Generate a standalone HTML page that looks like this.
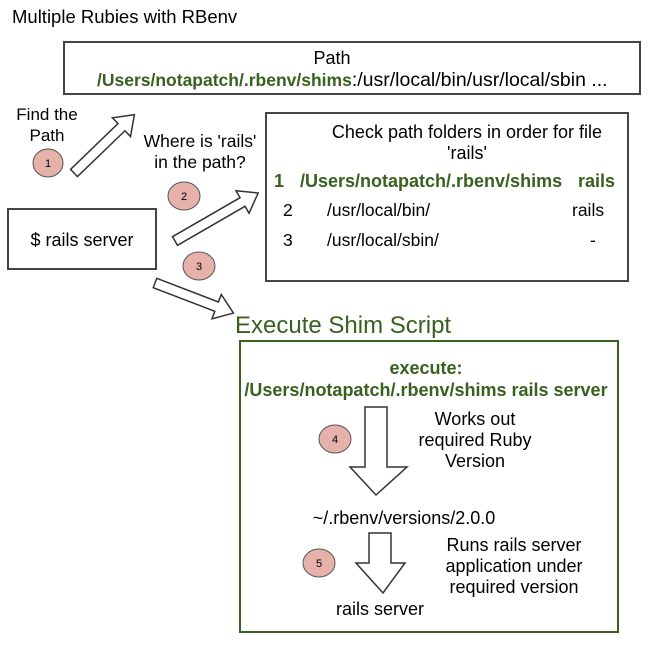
<!DOCTYPE html>
<html><head><style>body{margin:0;background:#fff}svg{display:block}text{font-family:"Liberation Sans",Arial,sans-serif;fill:#000}</style></head>
<body>
<svg width="652" height="652" viewBox="0 0 652 652" xmlns="http://www.w3.org/2000/svg">
<text x="12" y="23" font-size="18.5">Multiple Rubies with RBenv</text>
<rect x="64" y="42" width="576" height="52" fill="#fff" stroke="#444" stroke-width="2"/>
<text x="332" y="64" font-size="18" text-anchor="middle">Path</text>
<text x="97" y="86" font-size="19.5"><tspan font-weight="bold" style="fill:#38601f" font-size="17.5">/Users/notapatch/.rbenv/shims</tspan>:/usr/local/bin/usr/local/sbin ...</text>

<text x="47" y="120" font-size="17" text-anchor="middle">Find the</text>
<text x="47" y="141" font-size="17" text-anchor="middle">Path</text>
<text x="200" y="147" font-size="17.5" text-anchor="middle">Where is 'rails'</text>
<text x="200" y="168" font-size="17.5" text-anchor="middle">in the path?</text>

<rect x="266" y="113" width="362" height="168" fill="#fff" stroke="#444" stroke-width="2"/>
<text x="467" y="138" font-size="18" text-anchor="middle">Check path folders in order for file</text>
<text x="467" y="159" font-size="18" text-anchor="middle">'rails'</text>
<g font-size="18" font-weight="bold">
<text x="274" y="187" style="fill:#38601f">1</text>
<text x="300" y="187" style="fill:#38601f">/Users/notapatch/.rbenv/shims</text>
<text x="578" y="187" style="fill:#38601f">rails</text></g>
<text x="283" y="216" font-size="17.5">2</text>
<text x="327" y="216" font-size="17.5">/usr/local/bin/</text>
<text x="572" y="216" font-size="17.5">rails</text>
<text x="283" y="246" font-size="17.5">3</text>
<text x="327" y="246" font-size="17.5">/usr/local/sbin/</text>
<text x="590" y="246" font-size="17.5">-</text>

<rect x="8" y="209" width="148" height="60" fill="#fff" stroke="#444" stroke-width="2"/>
<text x="82" y="246" font-size="18" text-anchor="middle">$ rails server</text>

<g fill="#fff" stroke="#333" stroke-width="1.5">
<polygon transform="translate(74,173) rotate(-44)" points="0,-5 66,-5 66,-13 84,0 66,13 66,5 0,5"/>
<polygon transform="translate(175,241) rotate(-30)" points="0,-5 78,-5 78,-13 96,0 78,13 78,5 0,5"/>
<polygon transform="translate(155,283) rotate(21)" points="0,-5 66,-5 66,-13 84,0 66,13 66,5 0,5"/>
<polygon points="365,407 387,407 387,467 407,467 376,495 350,467 365,467"/>
<polygon points="369,533 391,533 391,563 405,563 383,593 356,563 369,563"/>
</g>

<g fill="#e6b1aa" stroke="#555" stroke-width="1">
<ellipse cx="48" cy="163" rx="15" ry="14"/>
<ellipse cx="184" cy="196" rx="16" ry="14"/>
<ellipse cx="199" cy="266" rx="16" ry="14"/>
<ellipse cx="335" cy="439" rx="16" ry="14"/>
<ellipse cx="319" cy="563" rx="16" ry="14"/>
</g>
<g font-size="11" text-anchor="middle">
<text x="48" y="167">1</text><text x="184" y="200">2</text><text x="199" y="270">3</text>
<text x="335" y="443">4</text><text x="319" y="567">5</text></g>

<text x="235" y="333" font-size="24" style="fill:#38601f">Execute Shim Script</text>
<rect x="240" y="341" width="378" height="291" fill="none" stroke="#38601f" stroke-width="2"/>
<g font-size="18" font-weight="bold" text-anchor="middle">
<text x="426" y="374" style="fill:#38601f">execute:</text>
<text x="426" y="396" style="fill:#38601f">/Users/notapatch/.rbenv/shims rails server</text></g>
<g font-size="18" text-anchor="middle">
<text x="475" y="425">Works out</text>
<text x="475" y="446">required Ruby</text>
<text x="475" y="467">Version</text>
<text x="404" y="524">~/.rbenv/versions/2.0.0</text>
<text x="514" y="551">Runs rails server</text>
<text x="514" y="572">application under</text>
<text x="514" y="593">required version</text>
<text x="380" y="615">rails server</text>
</g>
</svg>
</body></html>
